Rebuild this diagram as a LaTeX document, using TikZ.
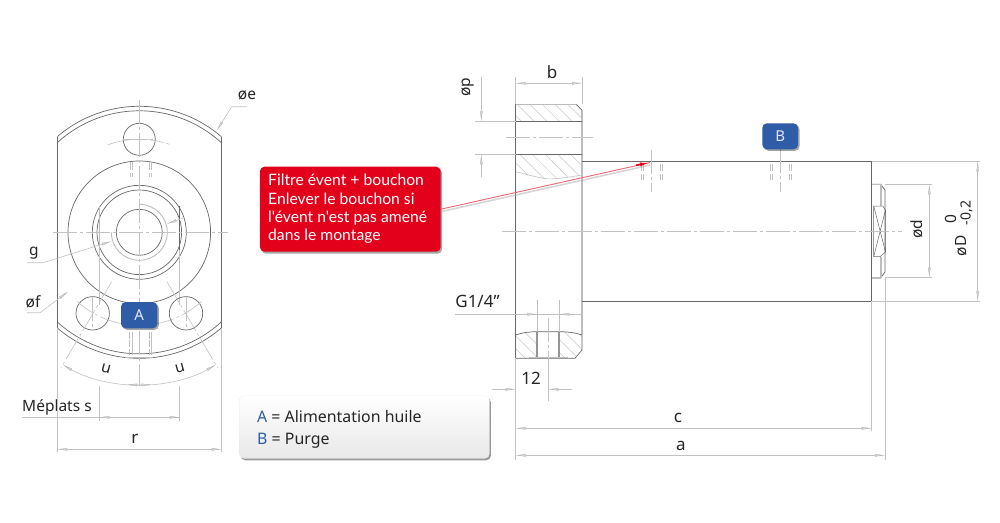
\documentclass[tikz,border=0pt]{standalone}
\usepackage{fontspec}
\setmainfont{Noto Sans}
\newfontfamily\callfont{Lato}
\usetikzlibrary{arrows.meta,shadows,calc}
\definecolor{dk}{HTML}{686868}
\definecolor{lg}{HTML}{C2C2C2}
\definecolor{thk}{HTML}{BDBDBD}
\definecolor{hatchc}{HTML}{CACACA}
\definecolor{tipc}{HTML}{B0B0B0}
\definecolor{tipf}{HTML}{D4D4D4}
\definecolor{bluebox}{HTML}{2F5CA6}
\definecolor{redbox}{HTML}{E2001A}
\definecolor{lblue}{HTML}{2F5CA6}
\tikzset{
 edge/.style={draw=dk,line width=0.7pt},
 thick edge/.style={draw=thk,line width=1.6pt},
 thin part/.style={draw=lg,line width=0.6pt},
 hatchl/.style={draw=hatchc,line width=0.5pt},
 centre/.style={draw=lg,line width=0.6pt,dash pattern=on 24pt off 3pt on 3pt off 3pt},
 dtip/.tip={Latex[length=10pt,width=2.8pt,line width=.3pt,color=tipc,fill=tipf]},
 dimline/.style={draw=lg,line width=0.6pt},
 dim both/.style={dimline,{dtip}-{dtip}},
 dim end/.style={dimline,-{dtip}},
 lbl/.style={inner sep=0pt,font=\fontsize{15.5}{15.5}\selectfont,text=black!85},
 lblbig/.style={lbl,font=\fontsize{17}{17}\selectfont},
 badge/.style={fill=bluebox,rounded corners=4.5pt,text=white!90!blue,inner sep=0pt,
   font=\fontsize{15}{15}\selectfont,drop shadow={shadow xshift=1.5pt,shadow yshift=-1.5pt,opacity=.35,fill=black}},
}
\begin{document}
\begin{tikzpicture}[x=1pt,y=-1pt]
\useasboundingbox (0,0) rectangle (1000,522);
\fill[white] (0,0) rectangle (1000,522);
\coordinate (L) at (139.3,232.3);
% ---------------- left view
\begin{scope}
 \clip (57.3,90) rectangle (221.7,370);
 \draw[edge] (L) circle[radius=126];
 \draw[edge] (L) circle[radius=121.5];
\end{scope}
\draw[edge] (57.3,136.7) -- (57.3,328) (221.7,136.7) -- (221.7,328);
\draw[edge] (L) circle[radius=71.3] (L) circle[radius=47] (L) circle[radius=42.3] (L) circle[radius=23];
\draw[thk,line width=.9pt] (L) ++(180:28) arc[start angle=180,end angle=-90,radius=28];
\draw[thk,line width=1.2pt] (99.3,206) -- (99.3,247);
\draw[dk,line width=.6pt] (179.7,206) -- (179.7,250);
\draw[thin part] (99.3,247) -- (99.3,305) (179.7,250) -- (179.7,305);
\draw[edge] (139.3,139.3) circle[radius=16];
\draw[edge] (92.7,313.3) circle[radius=16.7] (186,313.3) circle[radius=16.7];
% ports
\draw[thin part] (130,161.7) -- (130,170) (149.3,161.7) -- (149.3,170) (132,161.7) -- (132,170) (151,161.7) -- (151,170);
\draw[thin part] (130,173) -- (130,177) (149.3,173) -- (149.3,177) (132,173) -- (132,177) (151,173) -- (151,177);
\draw[thk,line width=1pt,dash pattern=on 7pt off 1.5pt] (129,331.7) -- (129,355) (149.3,331.7) -- (149.3,355);
\draw[thin part] (132,331.7) -- (132,355) (151.3,331.7) -- (151.3,355);
\draw[thk,line width=1.2pt] (125,357.6) -- (153,357.6);
% centre lines
\draw[centre] (53,232.3) -- (228,232.3);
\draw[centre] (139.3,100) -- (139.3,386);
\draw[centre] (L) ++(-110:93) arc[start angle=-110,end angle=-70,radius=93];
\draw[centre] (L) ++(100:93) arc[start angle=100,end angle=132,radius=93];
\draw[centre] (L) ++(48:93) arc[start angle=48,end angle=80,radius=93];
\draw[centre] (111.7,281.7) -- (60.8,368);
\draw[centre] (166.9,281.7) -- (217.8,368);
\draw[centre] (92.7,297) -- (92.7,329) (186,297) -- (186,329);
\draw[centre] (123,139.3) -- (155,139.3);
% u arcs
\draw[dim end] (L) ++(90:153) arc[start angle=90,end angle=120,radius=153];
\draw[dim end] (L) ++(90:153) arc[start angle=90,end angle=60,radius=153];
\draw[dim end] (139.3,385) -- (127,384.6);
\draw[dim end] (139.3,385) -- (151.6,384.6);
\node[lbl,rotate=-15] (u1) at (106,369) {u};
\node[lbl,rotate=15] (u2) at (180,368.5) {u};
% leaders left
\coordinate (ea) at (246.7,106.7); \coordinate (eb) at (231.7,106.7); \coordinate (ec) at (216.7,130.7);
\draw[dim end] (ea) -- (eb) -- (ec);
\node[lbl] (oe) at (247,95.5) {øe};
\coordinate (ga) at (27,262.7); \coordinate (gb) at (43,262.7); \coordinate (gc) at (111.7,241.2);
\draw[dim end] (ga) -- (gb) -- (gc);
\coordinate (gd) at (183,218); \coordinate (ge) at (166.7,224);
\draw[dim end] (gd) -- (ge);
\node[lbl] (g) at (34,253) {g};
\coordinate (fa) at (27,312.7); \coordinate (fb) at (40,312.7); \coordinate (fc) at (68,291.7);
\draw[dim end] (fa) -- (fb) -- (fc);
\node[lbl] (of) at (33,302) {øf};
% s and r dims
\draw[dimline] (99.3,386) -- (99.3,421) (179.7,386) -- (179.7,421);
\draw[dimline] (22,417.3) -- (179.7,417.3);
\draw[dim end] (120,417.3) -- (99.3,417.3);
\draw[dim end] (160,417.3) -- (179.7,417.3);
\node[lbl,anchor=west] (ms) at (22,407) {Méplats s};
\draw[dimline] (57.3,328) -- (57.3,452) (221.7,328) -- (221.7,452);
\draw[dim both] (57.3,449.3) -- (221.7,449.3);
\node[lblbig] (r) at (135,439) {r};
% badge A
\node[badge,minimum width=36.3pt,minimum height=26.3pt] (A) at (139.2,315.2) {A};
% ---------------- right view: hatch
\begin{scope}
 \clip (515.7,104.3) -- (576,104.3) -- (582,110) -- (582,121.3) -- (515.7,121.3) -- cycle;
 \foreach \x in {500,512.7,...,590} \draw[hatchl] (\x,100) -- (\x+24,124);
\end{scope}
\begin{scope}
 \clip (515.7,154.3) -- (582,154.3) -- (582,175) .. controls (565,178) and (550,179.5) .. (546,178.7) .. controls (535,177) and (525,174) .. (515.7,171.7) -- cycle;
 \foreach \x in {490,502.7,...,590} \draw[hatchl] (\x,150) -- (\x+32,182);
\end{scope}
\draw[thin part] (582,175) .. controls (565,178) and (550,179.5) .. (546,178.7) .. controls (535,177) and (525,174) .. (515.7,171.7);
\begin{scope}
 \clip (515.7,335) .. controls (522,332.5) and (530,331.7) .. (537.3,331.7) -- (537.3,358.3) -- (520,358.3) -- (515.7,353) -- cycle;
 \foreach \x in {495,507.7,...,540} \draw[hatchl] (\x,328) -- (\x+32,360);
\end{scope}
\begin{scope}
 \clip (582,335) .. controls (575,332.5) and (567,331.7) .. (559.3,331.7) -- (559.3,358.3) -- (575,358.3) -- (582,350) -- cycle;
 \foreach \x in {535,547.7,...,585} \draw[hatchl] (\x,328) -- (\x+32,360);
\end{scope}
% right view: outline
\draw[edge] (515.7,104.3) -- (515.7,358.3);
\draw[thick edge] (582,110) -- (582,335);
\draw[thick edge] (515.7,104.3) -- (576,104.3);
\draw[edge] (576,104.3) -- (582,110);
\draw[edge] (515.7,121.3) -- (582,121.3) (515.7,154.3) -- (582,154.3);
\draw[edge] (582,161.3) -- (871.7,161.3) (582,301.3) -- (871.7,301.3) (871.7,161.3) -- (871.7,301.3);
\draw[edge] (515.7,335) .. controls (522,332.5) and (530,331.7) .. (537.3,331.7) -- (559.3,331.7) .. controls (567,331.7) and (575,332.5) .. (582,335) -- (582,350) -- (575,358.3) -- (515.7,358.3);
\draw[draw=dk,line width=1.8pt,opacity=.7] (537.3,332) -- (537.3,357) (559.3,332) -- (559.3,357);
\draw[thick edge] (529,357.3) -- (567.7,357.3);
% nut
\draw[edge] (871.7,184.3) -- (880.7,184.3) -- (885,190) -- (885,272) -- (880.7,277.7) -- (871.7,277.7);
\draw[thick edge] (880.7,184.3) -- (880.7,206) (880.7,257) -- (880.7,277.7);
\draw[thick edge] (871.7,184.3) -- (880.7,184.3) (871.7,277.7) -- (880.7,277.7);
\draw[draw=dk,line width=.5pt] (873.7,206) -- (882.7,206) -- (885.5,210) -- (885.5,252) -- (880,256.7) -- (873.7,256.7) -- cycle (873.7,206) -- (885.5,252) (873.7,256.7) -- (885.5,210);
% centre lines right
\draw[centre] (501.7,231.3) -- (901.7,231.3);
\draw[centre] (506,137.3) -- (593,137.3);
\draw[centre] (548.3,318) -- (548.3,357);
\draw[thin part] (548.3,357) -- (548.3,401);
% port marks
\foreach \x in {641,643.5,660.5,662.5,770,772.5,789,791.5}{
 \draw[thin part] (\x,164) -- (\x,171) (\x,174) -- (\x,180);
}
\draw[centre] (651.3,150) -- (651.3,192);
\draw[centre] (780.3,149) -- (780.3,192);
% dims right
\draw[dimline] (515.7,77) -- (515.7,104.3) (582,77) -- (582,104.3);
\draw[dim both] (515.7,83.3) -- (582,83.3);
\node[lblbig] (b) at (552,72) {b};
\draw[dimline] (475,121.3) -- (515.7,121.3) (475,154.3) -- (515.7,154.3);
\draw[dim end] (481.3,76.7) -- (481.3,121.3);
\draw[dim end] (481.3,177) -- (481.3,154.3);
\node[lbl,rotate=90] (op) at (468,87) {øp};
\draw[dimline] (455,314.3) -- (583,314.3);
\draw[dim end] (525,314.3) -- (537.3,314.3);
\draw[dim end] (572,314.3) -- (559.3,314.3);
\draw[dimline] (537.3,300) -- (537.3,331.7) (559.3,300) -- (559.3,331.7);
\node[lblbig] (gq) at (477.5,301) {G1/4\char"22};
\draw[dim end] (492,389.3) -- (515.7,389.3);
\draw[dim end] (572,389.3) -- (548.3,389.3);
\node[lblbig] (d12) at (531,378) {12};
\draw[dimline] (515.7,358.3) -- (515.7,460);
\draw[dimline] (871.7,301.3) -- (871.7,431) (885,277.7) -- (885,460);
\draw[dim both] (515.7,428.3) -- (871.7,428.3);
\draw[dim both] (515.7,455.3) -- (885,455.3);
\node[lblbig] (c) at (678,417.5) {c};
\node[lblbig] (a) at (681,445.5) {a};
\draw[dimline] (885,184.3) -- (932,184.3) (885,277.7) -- (932,277.7);
\draw[dim both] (929.3,184.3) -- (929.3,277.7);
\node[lbl,rotate=90] (od) at (917,229) {ød};
\draw[dimline] (871.7,161.3) -- (980,161.3) (871.7,301.3) -- (980,301.3);
\draw[dim both] (977.7,161.3) -- (977.7,301.3);
\node[lbl,rotate=90] (zero) at (951,219) {0};
\node[lbl,rotate=90] (oD) at (961,246) {øD};
\node[lbl,rotate=90,font=\fontsize{14}{14}\selectfont] (tol) at (966.5,213) {-0,2};
% badge B
\node[badge,minimum width=35.7pt,minimum height=26pt] (B) at (780.2,136.3) {B};
% callout
\node[fill=redbox,rounded corners=4.5pt,minimum width=180.7pt,minimum height=85pt,inner sep=0pt,
  drop shadow={shadow xshift=1.5pt,shadow yshift=-2pt,opacity=.35,fill=black}] (call) at (350.3,209.2) {};
\coordinate (tip) at (650,162.6);
\coordinate (tipb) at (636,165.2);
\draw[black!35,line width=1.6pt,opacity=.45] ($(call.east)+(0,2.5)$) -- ($(tip)+(0,2.5)$);
\draw[draw=redbox!60,line width=.9pt] (call.east) -- (tip);
\draw[draw=redbox,line width=1.6pt,-{Latex[length=10pt,width=4pt]}] (tipb) -- (tip);
\node[anchor=west,align=left,inner sep=0pt,text=white,font=\callfont\fontsize{15.7}{18.4}\selectfont] (calltxt) at (268,209) {Filtre évent + bouchon\\Enlever le bouchon si\\l'évent n'est pas amené\\dans le montage};
% legend
\node[rounded corners=4.5pt,minimum width=250pt,minimum height=62.6pt,inner sep=0pt,draw=gray!15,line width=.3pt,
  top color=white,bottom color=gray!18,
  drop shadow={shadow xshift=1.5pt,shadow yshift=-2pt,opacity=.4,fill=black}] (legend) at (364.3,427) {};
\node[anchor=west,align=left,inner sep=0pt,text=black!85,font=\fontsize{15.9}{22}\selectfont] (legtxt) at (257,429) {\textcolor{lblue}{A} = Alimentation huile\\\textcolor{lblue}{B} = Purge};
\end{tikzpicture}
\end{document}
